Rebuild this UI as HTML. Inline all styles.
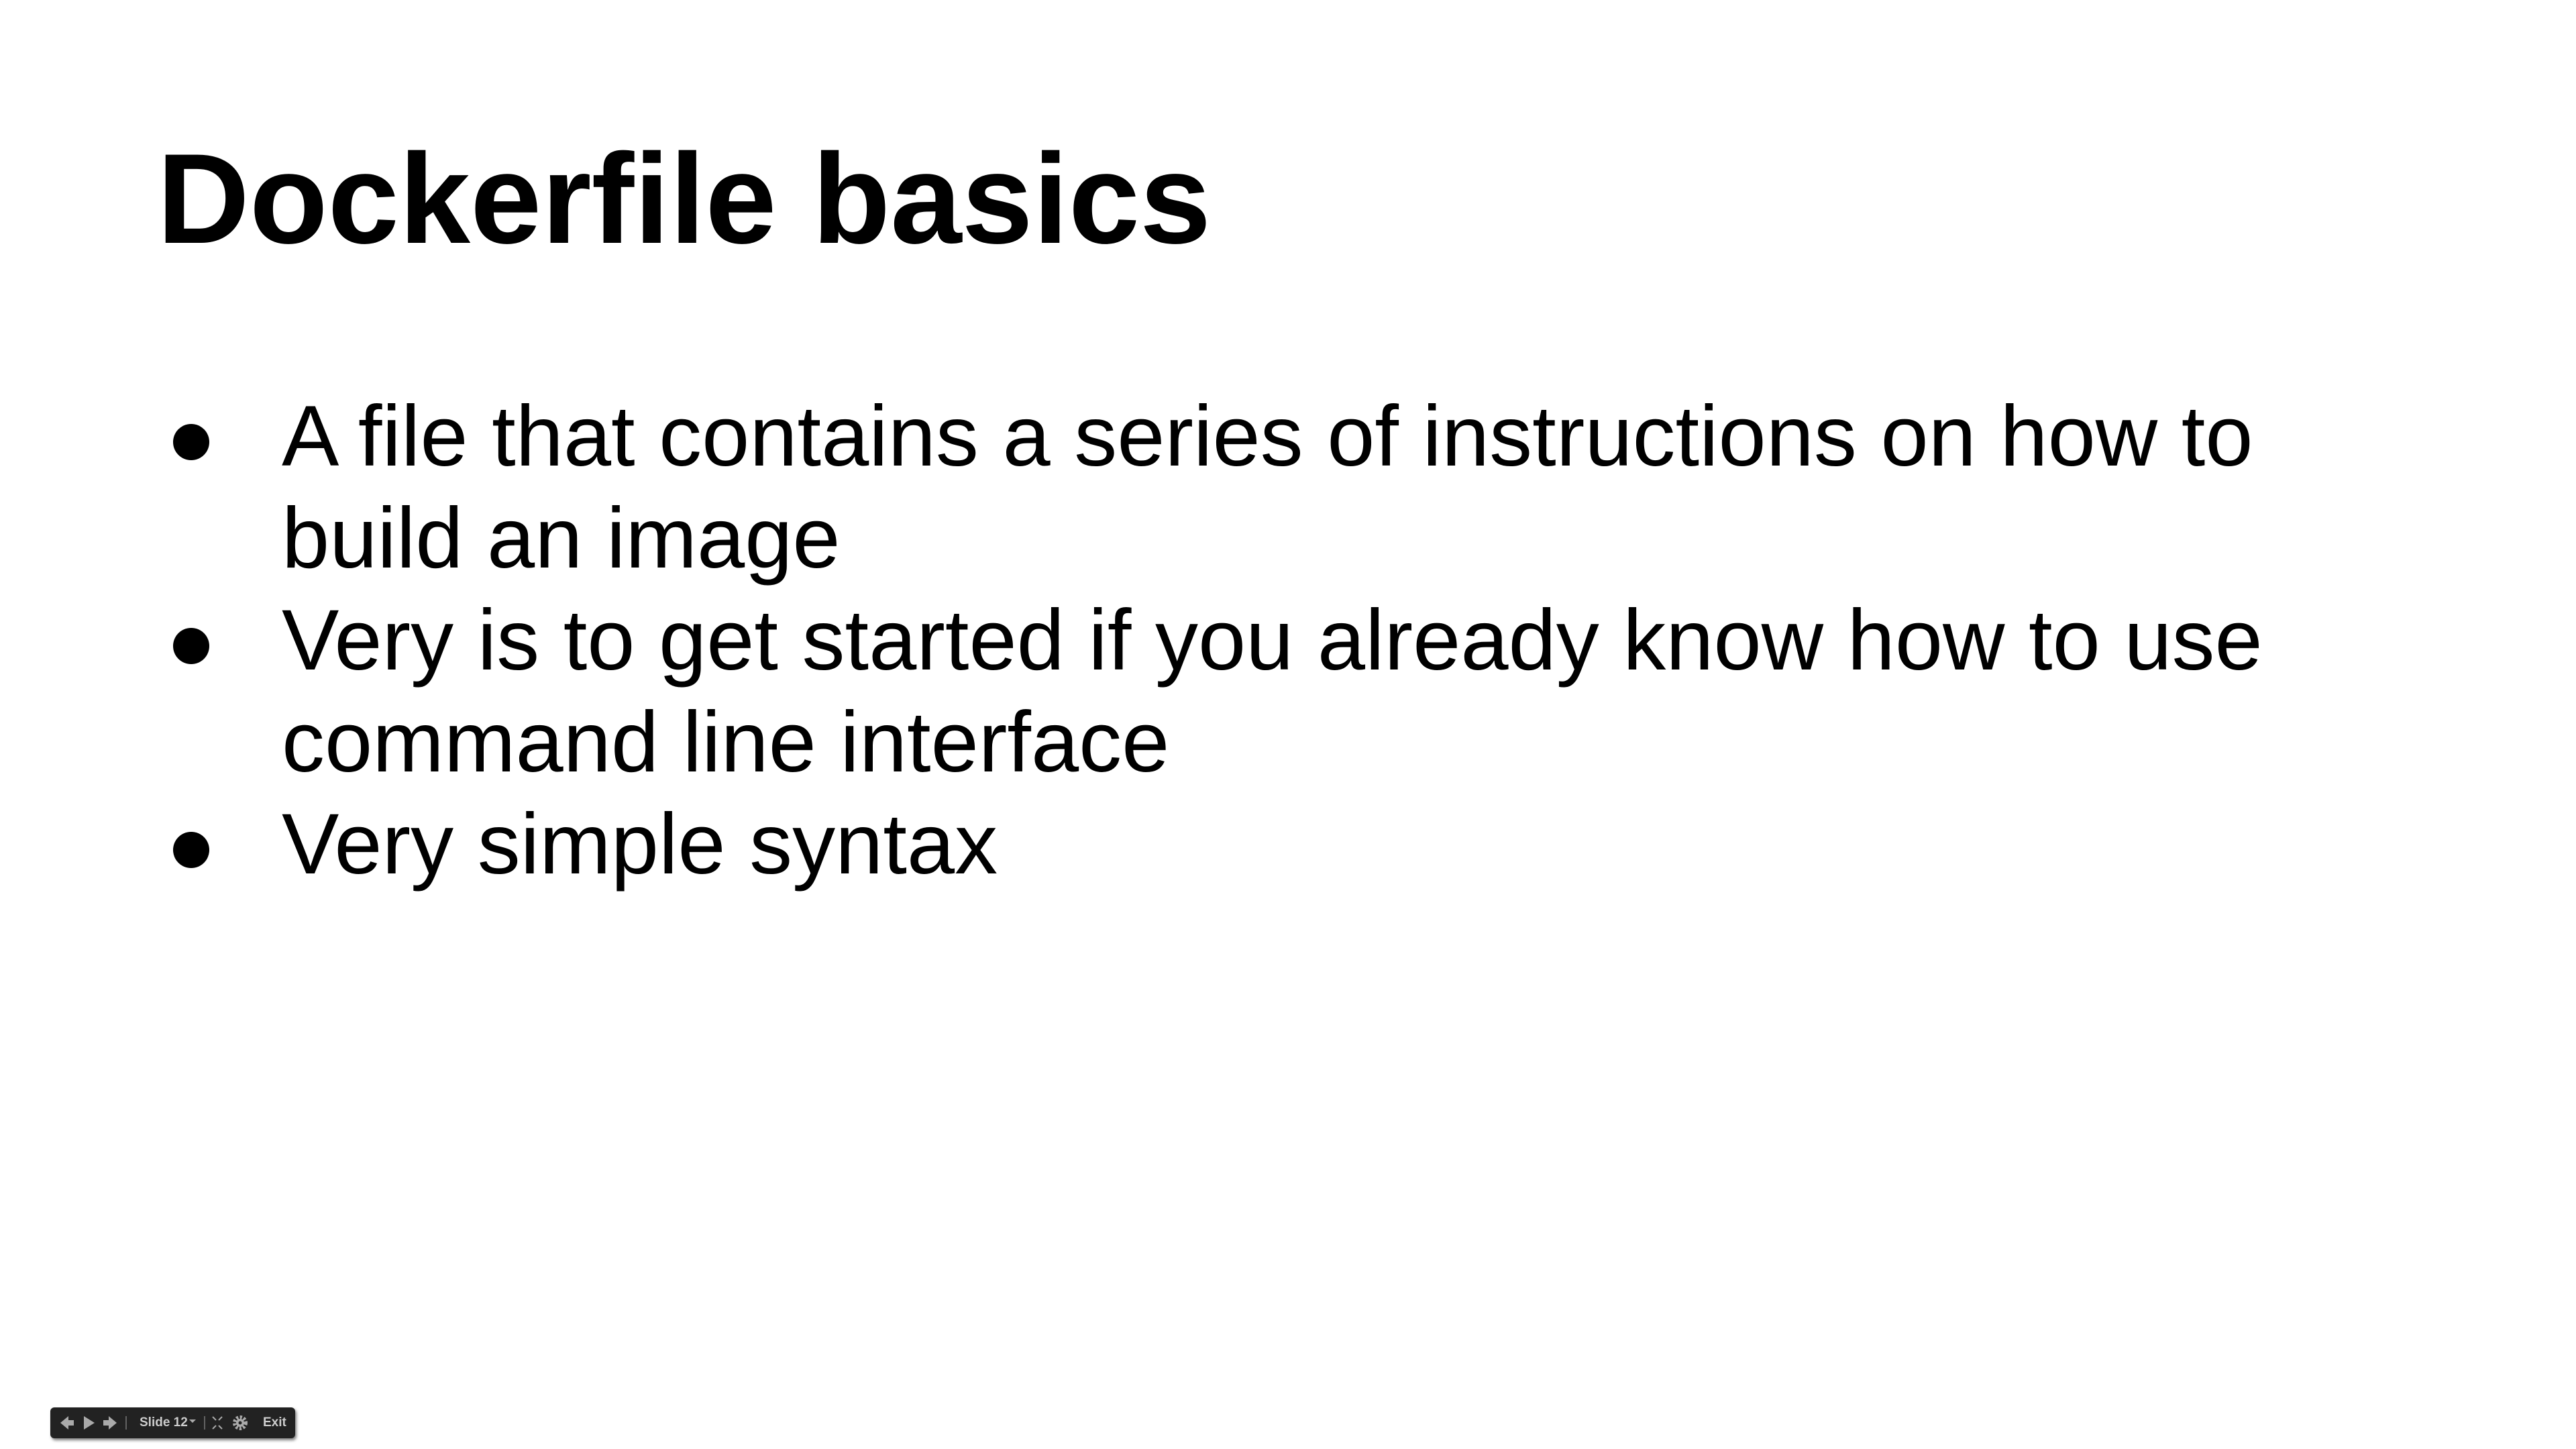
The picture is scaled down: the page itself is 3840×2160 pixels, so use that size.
<!DOCTYPE html>
<html><head><meta charset="utf-8"><style>
html,body{margin:0;padding:0;background:#fff;}
body{width:3840px;height:2160px;position:relative;overflow:hidden;font-family:"Liberation Sans",Arial,sans-serif;color:#000;}
.t{position:absolute;left:234px;top:201px;font-size:191px;line-height:191px;font-weight:bold;white-space:nowrap;}
.l{position:absolute;left:420px;font-size:128px;line-height:152px;white-space:nowrap;}
.b{position:absolute;left:258px;width:54px;height:54px;border-radius:50%;background:#000;}
.tb{position:absolute;left:75px;top:2098px;width:365px;height:46px;background:#222;border-radius:6px;box-shadow:2px 3px 4px rgba(0,0,0,0.5);color:#ccc;font-weight:bold;font-size:19px;}
.tb span{position:absolute;top:12px;}
</style></head><body>
<div class="t">Dockerfile basics</div>
<div class="b" style="top:632px"></div>
<div class="b" style="top:936px"></div>
<div class="b" style="top:1240px"></div>
<div class="l" style="top:575px">A file that contains a series of instructions on how to</div>
<div class="l" style="top:727px">build an image</div>
<div class="l" style="top:879px">Very is to get started if you already know how to use</div>
<div class="l" style="top:1031px">command line interface</div>
<div class="l" style="top:1183px">Very simple syntax</div>
<div class="tb">
<svg width="365" height="46" style="position:absolute;left:0;top:0">
<polygon points="15,23 27,13 27,19 35,19 35,27 27,27 27,33" fill="#aaa"/>
<polygon points="50,13 66,23 50,33" fill="#aaa"/>
<polygon points="99,23 87,13 87,19 79,19 79,27 87,27 87,33" fill="#aaa"/>
<line x1="113" y1="13" x2="113" y2="33" stroke="#777" stroke-width="1.5"/>
<polygon points="207,18 217,18 212,23" fill="#aaa"/>
<line x1="230" y1="13" x2="230" y2="33" stroke="#777" stroke-width="1.5"/>
<g stroke="#aaa" stroke-width="2"><path d="M242 14 l5 5 M256 14 l-5 5 M242 32 l5 -5 M256 32 l-5 -5"/></g>
<circle cx="283" cy="23" r="8" fill="none" stroke="#aaa" stroke-width="6" stroke-dasharray="3 2.3"/>
<circle cx="283" cy="23" r="6" fill="#aaa"/><circle cx="283" cy="23" r="2.5" fill="#222"/>
</svg>
<span style="left:133px">Slide 12</span>
<span style="left:317px">Exit</span>
</div>
</body></html>
